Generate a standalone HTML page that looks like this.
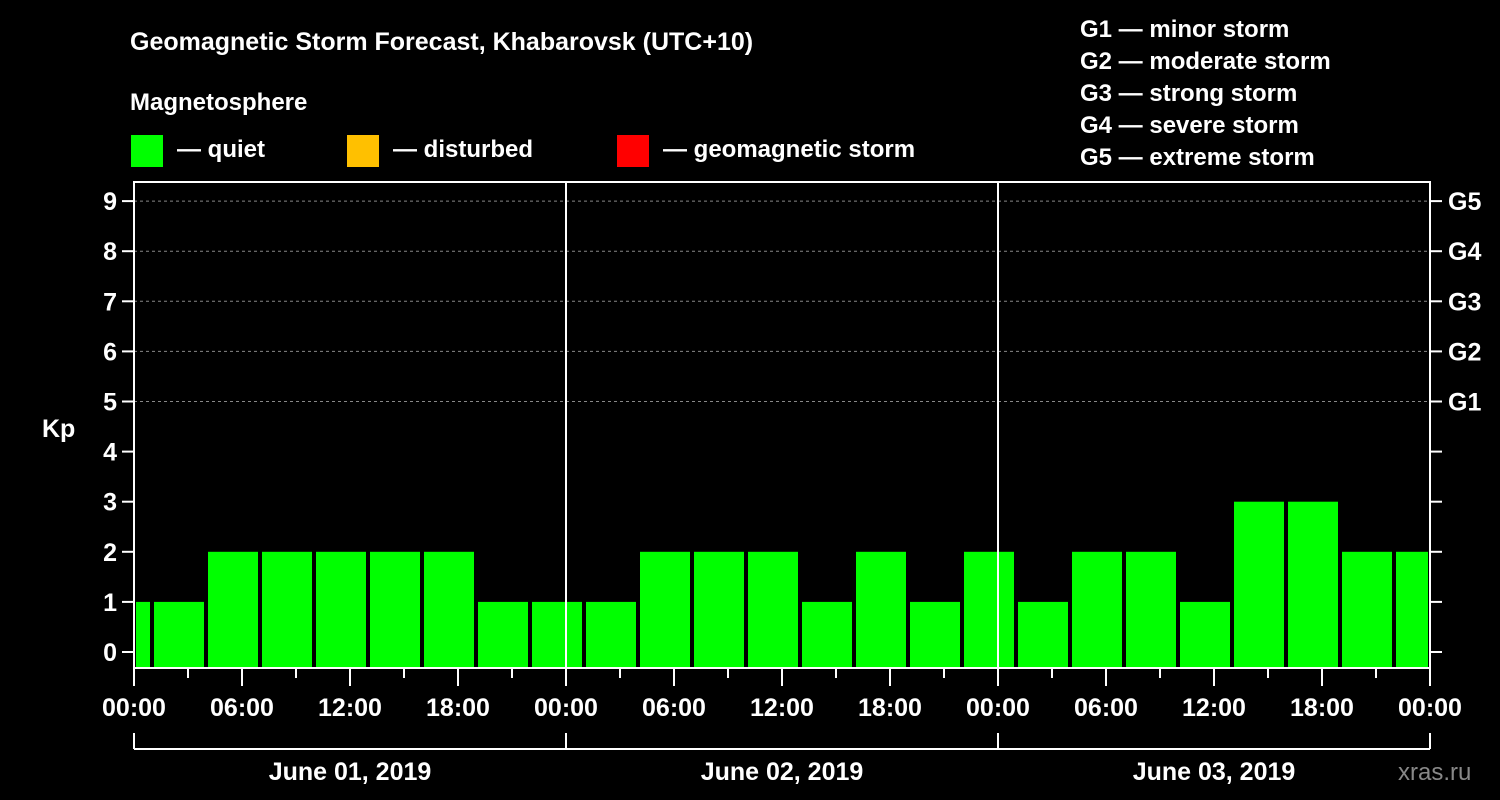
<!DOCTYPE html>
<html><head><meta charset="utf-8"><style>
body{margin:0;background:#000;}
svg{display:block;font-family:"Liberation Sans",sans-serif;font-weight:bold;}
</style></head><body>
<svg id="chart" width="1500" height="800" viewBox="0 0 1500 800">
<rect width="1500" height="800" fill="#000"/>
<text x="130" y="50" fill="#fff" font-size="25">Geomagnetic Storm Forecast, Khabarovsk (UTC+10)</text>
<text x="130" y="110" fill="#fff" font-size="24">Magnetosphere</text>
<g><rect x="131" y="135" width="32" height="32" fill="#00ff00"/><text x="177" y="157" fill="#fff" font-size="24">— quiet</text></g>
<g><rect x="347" y="135" width="32" height="32" fill="#ffc000"/><text x="393" y="157" fill="#fff" font-size="24">— disturbed</text></g>
<g><rect x="617" y="135" width="32" height="32" fill="#ff0000"/><text x="663" y="157" fill="#fff" font-size="24">— geomagnetic storm</text></g>
<g fill="#fff" font-size="24">
<text x="1080" y="37">G1 — minor storm</text>
<text x="1080" y="69">G2 — moderate storm</text>
<text x="1080" y="101">G3 — strong storm</text>
<text x="1080" y="133">G4 — severe storm</text>
<text x="1080" y="165">G5 — extreme storm</text>
</g>
<text x="42" y="437" fill="#fff" font-size="25">Kp</text>
<text x="1398" y="780" fill="#888" font-size="24" font-weight="normal">xras.ru</text>
<g id="grid"></g><g id="bars"></g><g id="axes"></g>
</svg>
<script>
const startHours=[-2,1,4,7,10,13,16,19,22,25,28,31,34,37,40,43,46,49,52,55,58,61,64,67,70];
const kpValues=[1,1,2,2,2,2,2,1,1,1,2,2,2,1,2,1,2,1,2,2,1,3,3,2,2];
const yTicks=[0,1,2,3,4,5,6,7,8,9];
const gLabels=["G1","G2","G3","G4","G5"];
const xLabels=["00:00","06:00","12:00","18:00","00:00","06:00","12:00","18:00","00:00","06:00","12:00","18:00","00:00"];
const dayLabels=["June 01, 2019","June 02, 2019","June 03, 2019"];
const NS="http://www.w3.org/2000/svg";
const X0=134,X1=1430,YB=668,YT=182;
const xs=h=>X0+(h/72)*(X1-X0);
const ys=v=>652-v*50.1;
function el(t,a,p){const e=document.createElementNS(NS,t);for(const k in a)e.setAttribute(k,a[k]);document.getElementById(p).appendChild(e);return e;}
for(const v of yTicks){
 if(v>=5){const g=el('line',{x1:X0,x2:X1,y1:ys(v),y2:ys(v),stroke:'#888','stroke-dasharray':'3,3'},'grid');
 
 }
 const t1=el('line',{x1:X0-12,x2:X0,y1:ys(v),y2:ys(v),stroke:'#fff','stroke-width':2},'axes');
 
 
 const t2=el('line',{x1:X1,x2:X1+12,y1:ys(v),y2:ys(v),stroke:'#fff','stroke-width':2},'axes');
 
 
 const l=el('text',{x:X0-17,y:ys(v)+9,fill:'#fff','font-size':25,'text-anchor':'end'},'axes');l.textContent=v;
 
 
}
gLabels.forEach((g,i)=>{const l=el('text',{x:X1+18,y:ys(5+i)+9,fill:'#fff','font-size':25},'axes');l.textContent=g;
 
 });
startHours.forEach((h,i)=>{
 let a=Math.max(xs(h)+2,X0+2),b=Math.min(xs(h+3)-2,X1-2);
 const v=kpValues[i];const c=v>=5?'#ff0000':v>=4?'#ffc000':'#00ff00';
 const r=el('rect',{x:a,y:ys(v),width:b-a,height:YB-ys(v),fill:c},'bars');
 
 
});
[24,48].forEach(h=>{const l=el('line',{x1:xs(h),x2:xs(h),y1:YT,y2:YB,stroke:'#fff','stroke-width':2},'axes');
 
 });
const fr=el('rect',{x:X0,y:YT,width:X1-X0,height:YB-YT,fill:'none',stroke:'#fff','stroke-width':2},'axes');


for(let h=0;h<=72;h+=3){const t=el('line',{x1:xs(h),x2:xs(h),y1:YB,y2:YB+(h%6===0?18:10),stroke:'#fff','stroke-width':2},'axes');
 
 }
xLabels.forEach((s,i)=>{const l=el('text',{x:xs(i*6),y:716,fill:'#fff','font-size':25,'text-anchor':'middle'},'axes');l.textContent=s;
 
 });
const br=el('line',{x1:X0,x2:X1,y1:749,y2:749,stroke:'#fff','stroke-width':2},'axes');


for(let d=0;d<=3;d++){const t=el('line',{x1:xs(d*24),x2:xs(d*24),y1:733,y2:749,stroke:'#fff','stroke-width':2},'axes');
 
 }
dayLabels.forEach((s,i)=>{const l=el('text',{x:xs(i*24+12),y:780,fill:'#fff','font-size':25,'text-anchor':'middle'},'axes');l.textContent=s;
 
 });
</script>
</body></html>
